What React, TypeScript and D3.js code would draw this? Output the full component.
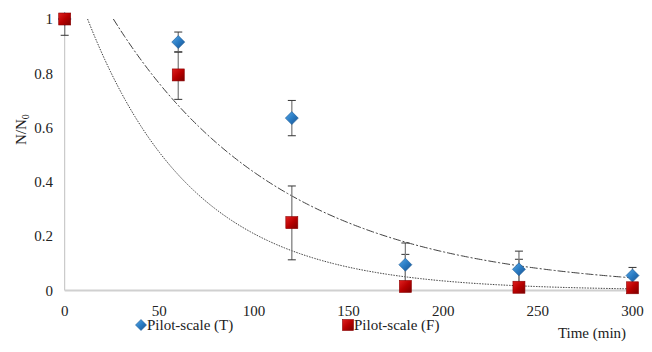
import React from "react";
import * as d3 from "d3";

const times = [0, 60, 120, 180, 240, 300];
const seriesT = [1, 0.915, 0.635, 0.095, 0.078, 0.055];
const errT = [0.0, 0.037, 0.065, 0.08, 0.067, 0.03];
const seriesF = [1, 0.794, 0.25, 0.015, 0.012, 0.01];
const errFUp = [0.0, 0.085, 0.135, 0.118, 0.103, 0.0];
const errFDown = [0.06, 0.09, 0.137, 0.015, 0.012, 0.01];
const xTicks = [0, 50, 100, 150, 200, 250, 300];
const yTicks = [0, 0.2, 0.4, 0.6, 0.8, 1];
const yTickLabels = ["0", "0.2", "0.4", "0.6", "0.8", "1"];
// exponential trendlines N = a * exp(-k t)
const fitT = { a: 1.333, k: 0.01118 };
const fitF = { a: 1.24, k: 0.0178 };
const legendLabels = ["Pilot-scale (T)", "Pilot-scale (F)"];

export default function App() {
  const W = 652, H = 352;
  const x = d3.scaleLinear().domain([0, 300]).range([64.7, 632.5]);
  const y = d3.scaleLinear().domain([0, 1]).range([290.5, 19]);
  const font = "Liberation Serif, Times New Roman, serif";
  const txt = { fontFamily: font, fontSize: "15px", fill: "#222" } as React.CSSProperties;

  const curve = (f: { a: number; k: number }) => {
    const pts: [number, number][] = [];
    const t0 = Math.log(f.a) / f.k;
    for (let t = t0; t <= 300.001; t += 1) pts.push([t, f.a * Math.exp(-f.k * t)]);
    pts.push([300, f.a * Math.exp(-f.k * 300)]);
    return d3.line<[number, number]>().x(d => x(d[0])).y(d => y(Math.min(1, d[1])))(pts) || "";
  };

  const cap = 4;
  const errBar = (xi: number, lo: number, hi: number, key: string) => {
    const x0 = x(xi);
    const yl = y(Math.max(0, lo));
    const yh = y(Math.min(1, hi));
    return (
      <g key={key}>
        <line x1={x0} x2={x0} y1={yl} y2={yh} stroke="#808080" strokeWidth={1.3} />
        {hi <= 1 && hi > lo && <line x1={x0 - cap} x2={x0 + cap} y1={yh} y2={yh} stroke="#333" strokeWidth={1} />}
        {lo >= 0 && hi > lo && <line x1={x0 - cap} x2={x0 + cap} y1={yl} y2={yl} stroke="#333" strokeWidth={1} />}
      </g>
    );
  };

  const diamond = (cx: number, cy: number, r: number, key: string) => (
    <path key={key} d={`M${cx},${cy - r}L${cx + r},${cy}L${cx},${cy + r}L${cx - r},${cy}Z`} fill="url(#gradT)" stroke="#1c5a96" strokeWidth={0.6} />
  );
  const square = (cx: number, cy: number, s: number, key: string) => (
    <rect key={key} x={cx - s} y={cy - s} width={2 * s} height={2 * s} fill="url(#gradF)" stroke="#8a0000" strokeWidth={0.6} />
  );

  return (
    <svg width={W} height={H} style={{ position: "absolute", left: 0, top: 0, background: "#fff" }}>
      <defs>
        <linearGradient id="gradT" x1="0" y1="0" x2="1" y2="1">
          <stop offset="0" stopColor="#5aa9e6" />
          <stop offset="0.5" stopColor="#2a7cc4" />
          <stop offset="1" stopColor="#174f8c" />
        </linearGradient>
        <linearGradient id="gradF" x1="0" y1="0" x2="1" y2="1">
          <stop offset="0" stopColor="#e02020" />
          <stop offset="0.5" stopColor="#b80000" />
          <stop offset="1" stopColor="#7a0000" />
        </linearGradient>
      </defs>
      <rect width={W} height={H} fill="#fff" />
      {/* axes */}
      <line x1={x(0)} x2={x(0)} y1={y(1)} y2={y(0)} stroke="#bfbfbf" strokeWidth={1} />
      <line x1={x(0)} x2={x(300)} y1={y(0)} y2={y(0)} stroke="#d0d0d0" strokeWidth={2} />
      {yTicks.map((v, i) => (
        <text key={"yt" + i} x={53} y={y(v)} dy="0.35em" textAnchor="end" style={txt}>{yTickLabels[i]}</text>
      ))}
      {xTicks.map(v => (
        <text key={"xt" + v} x={x(v)} y={310.5} dy="0.35em" textAnchor="middle" style={txt}>{v}</text>
      ))}
      <text transform={`translate(26,${y(0.6) + 2}) rotate(-90)`} textAnchor="middle" style={txt}>
        N/N<tspan style={{ fontSize: "10px" }} dy={3}>0</tspan>
      </text>
      <text x={592} y={333} dy="0.35em" textAnchor="middle" style={txt}>Time (min)</text>
      {/* trendlines */}
      <path d={curve(fitT)} fill="none" stroke="#404040" strokeWidth={1} strokeDasharray="8,2,2,2" />
      <path d={curve(fitF)} fill="none" stroke="#404040" strokeWidth={1} strokeDasharray="1.5,1.2" />
      {/* error bars */}
      {times.map((t, i) => errBar(t, seriesF[i] - errFDown[i], seriesF[i] + errFUp[i], "ef" + i))}
      {times.map((t, i) => errT[i] > 0 ? errBar(t, seriesT[i] - errT[i], seriesT[i] + errT[i], "et" + i) : null)}
      {/* markers */}
      {times.map((t, i) => diamond(x(t), y(seriesT[i]), 6.5, "dt" + i))}
      {times.map((t, i) => square(x(t), y(seriesF[i]), 6, "sf" + i))}
      {/* legend */}
      {diamond(141, 325, 5.5, "ld")}
      <text x={147} y={325} dy="0.35em" style={txt}>{legendLabels[0]}</text>
      {square(348, 325, 5.5, "ls")}
      <text x={354} y={325} dy="0.35em" style={txt}>{legendLabels[1]}</text>
    </svg>
  );
}
